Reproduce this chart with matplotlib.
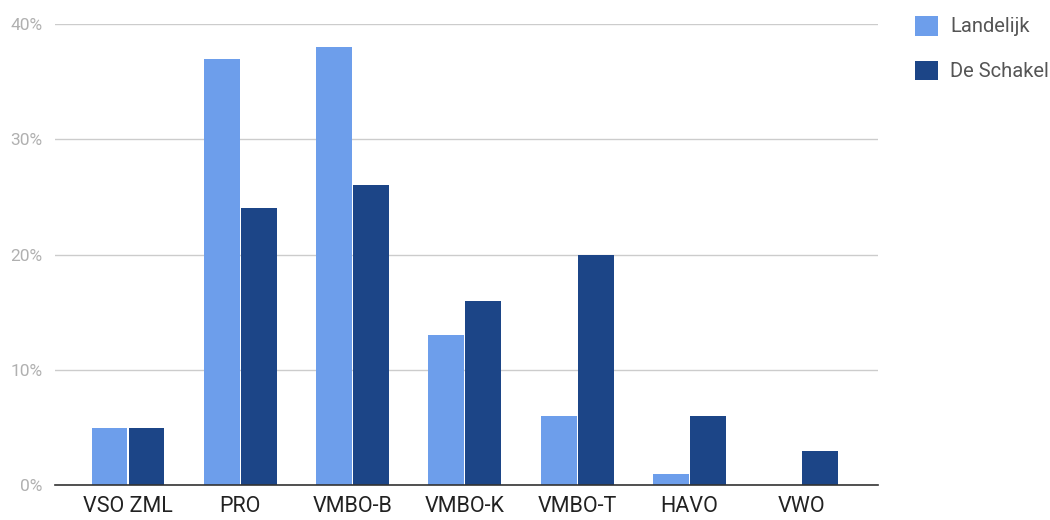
import matplotlib
matplotlib.use("Agg")
import matplotlib.pyplot as plt
import numpy as np
from matplotlib.patches import Patch

categories = ["VSO ZML", "PRO", "VMBO-B", "VMBO-K", "VMBO-T", "HAVO", "VWO"]
landelijk = [5, 37, 38, 13, 6, 1, 0]
de_schakel = [5, 24, 26, 16, 20, 6, 3]
series_names = ["Landelijk", "De Schakel"]
yticks = [0, 10, 20, 30, 40]
ytick_labels = ["0%", "10%", "20%", "30%", "40%"]

c_light = "#6d9eeb"
c_dark = "#1c4587"

plt.rcParams['font.family'] = ['Roboto', 'DejaVu Sans']

fig = plt.figure(figsize=(10.5, 5.2), dpi=100)
ax = fig.add_axes([0.0524, 0.067, 0.7838, 0.887])

x = np.arange(len(categories))
w = 0.32
gap = 0.01
ax.bar(x - w/2 - gap/2, landelijk, width=w, color=c_light, zorder=3)
ax.bar(x + w/2 + gap/2, de_schakel, width=w, color=c_dark, zorder=3)

ax.set_xlim(-0.65, 6.68)
ax.set_ylim(0, 40)
ax.set_yticks(yticks)
ax.set_yticklabels(ytick_labels, color="#b0b0b0", fontsize=12.5)
ax.set_xticks(x)
ax.set_xticklabels(categories, color="#222222", fontsize=15.5)
ax.tick_params(axis='both', length=0)
ax.tick_params(axis='x', pad=8)
ax.tick_params(axis='y', pad=9)
ax.yaxis.grid(True, color="#cccccc", linewidth=1, zorder=0)
for s in ["top", "right", "left"]:
    ax.spines[s].set_visible(False)
ax.spines["bottom"].set_color("#333333")
ax.spines["bottom"].set_linewidth(1.2)
ax.spines["bottom"].set_zorder(4)

handles = [Patch(facecolor=c_light, edgecolor='none'), Patch(facecolor=c_dark, edgecolor='none')]
leg = fig.legend(handles, series_names, loc="upper left", bbox_to_anchor=(0.854, 1.005),
                 frameon=False, fontsize=14.5, handlelength=1.15, handleheight=1.15,
                 handletextpad=0.6, labelspacing=1.2, labelcolor="#555555")

fig.savefig("out.png", dpi=100)
